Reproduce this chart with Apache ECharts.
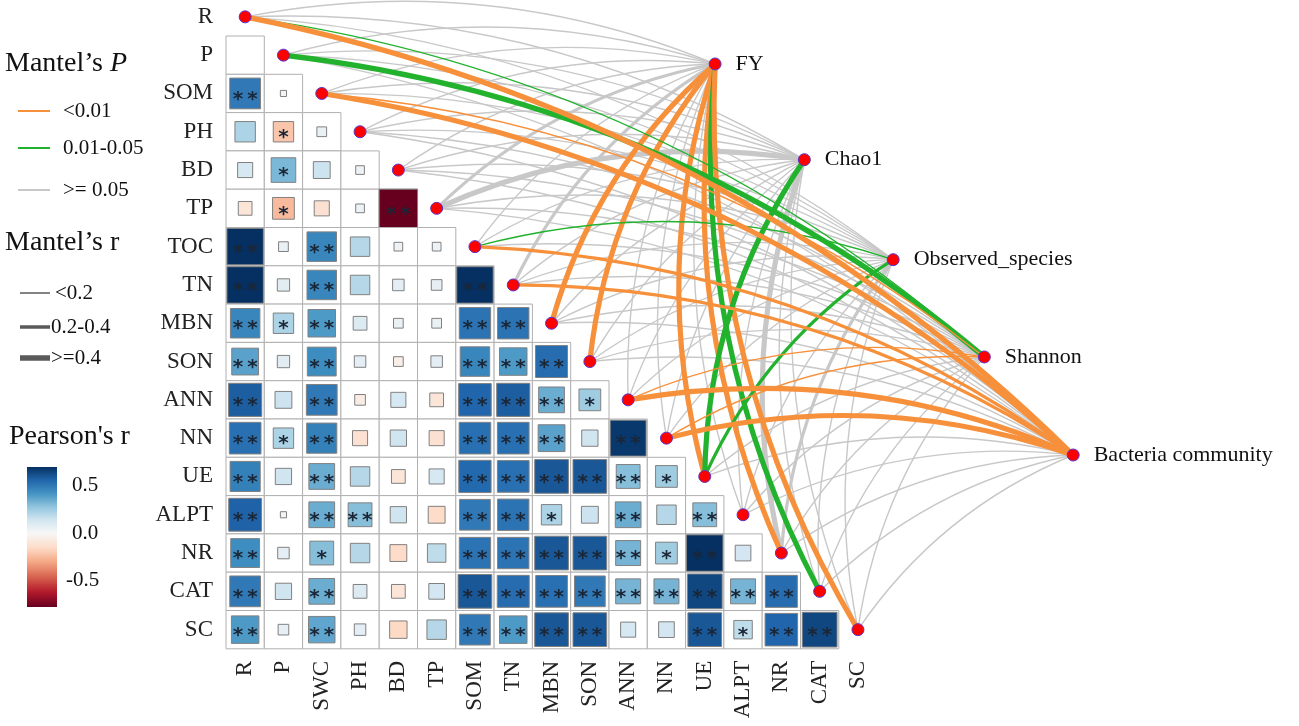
<!DOCTYPE html>
<html><head><meta charset="utf-8">
<script src="https://cdn.jsdelivr.net/npm/echarts@6/dist/echarts.min.js"></script>
<style>html,body{margin:0;padding:0;background:#fff}#c{width:1299px;height:726px}</style>
</head><body><div id="c"></div>
<script>
// ---------- data ----------
const rowNames = ['R','P','SOM','PH','BD','TP','TOC','TN','MBN','SON','ANN','NN','UE','ALPT','NR','CAT','SC'];
const colNames = ['R','P','SWC','PH','BD','TP','SOM','TN','MBN','SON','ANN','NN','UE','ALPT','NR','CAT','SC'];

// Pearson's r, lower triangle (row i has i values, columns 0..i-1)
const corrR = [
  [],
  [0.0],
  [0.50,0.02],
  [0.22,-0.22,0.05],
  [0.12,0.32,0.15,0.04],
  [-0.10,-0.25,-0.12,0.04,-0.78],
  [0.70,0.05,0.46,0.20,0.04,0.04],
  [0.70,0.08,0.46,0.20,0.07,0.06,0.70],
  [0.46,0.22,0.40,0.10,0.05,0.05,0.52,0.52],
  [0.38,0.08,0.44,0.07,-0.05,0.07,0.46,0.40,0.54],
  [0.58,0.15,0.50,-0.06,0.12,-0.10,0.56,0.58,0.35,0.25],
  [0.53,0.22,0.48,-0.12,0.14,-0.12,0.53,0.53,0.38,0.14,0.68],
  [0.48,0.14,0.35,0.20,-0.10,0.12,0.55,0.53,0.60,0.60,0.30,0.25],
  [0.57,0.02,0.35,0.30,0.14,-0.15,0.50,0.52,0.22,0.15,0.35,0.20,0.30],
  [0.44,0.07,0.30,0.20,-0.15,0.18,0.52,0.52,0.60,0.60,0.33,0.25,0.70,0.13],
  [0.50,0.14,0.35,0.10,-0.10,0.13,0.60,0.54,0.53,0.50,0.33,0.33,0.64,0.33,0.54],
  [0.40,0.06,0.37,0.07,-0.16,0.20,0.50,0.40,0.60,0.60,0.12,0.13,0.60,0.18,0.56,0.64]
];
const corrSig = [
  [],
  [''],
  ['**',''],
  ['','*',''],
  ['','*','',''],
  ['','*','','','**'],
  ['**','','**','','',''],
  ['**','','**','','','','**'],
  ['**','*','**','','','','**','**'],
  ['**','','**','','','','**','**','**'],
  ['**','','**','','','','**','**','**','*'],
  ['**','*','**','','','','**','**','**','','**'],
  ['**','','**','','','','**','**','**','**','**','*'],
  ['**','','**','**','','','**','**','*','','**','','**'],
  ['**','','*','','','','**','**','**','**','**','*','**',''],
  ['**','','**','','','','**','**','**','**','**','**','**','**','**'],
  ['**','','**','','','','**','**','**','**','','','**','*','**','**']
];

// Mantel targets (position in matrix units)
const targets = ['FY','Chao1','Observed_species','Shannon','Bacteria community'];
const targetX = [12.27,14.60,16.92,19.30,21.62];
const targetY = [1.23,3.73,6.34,8.88,11.44];

// Mantel's p and r for each environmental variable (order of rowNames)
const pFY      = [0.42,0.31,0.55,0.63,0.48,0.21,0.35,0.12,0.001,0.001,0.33,0.41,0.001,0.52,0.001,0.02,0.001];
const rFY      = [0.05,0.08,0.04,0.05,0.06,0.26,0.11,0.32,0.45,0.46,0.10,0.08,0.47,0.05,0.44,0.43,0.46];
const pChao1   = [0.38,0.45,0.52,0.61,0.47,0.14,0.33,0.29,0.36,0.41,0.55,0.49,0.02,0.44,0.11,0.37,0.28];
const rChao1   = [0.07,0.05,0.04,0.03,0.06,0.42,0.10,0.12,0.09,0.08,0.05,0.06,0.44,0.07,0.42,0.09,0.12];
const pObs     = [0.29,0.35,0.43,0.58,0.51,0.26,0.03,0.22,0.33,0.47,0.39,0.42,0.03,0.36,0.13,0.31,0.18];
const rObs     = [0.09,0.07,0.05,0.03,0.04,0.12,0.12,0.13,0.10,0.06,0.08,0.07,0.32,0.09,0.28,0.10,0.14];
const pShannon = [0.03,0.02,0.008,0.49,0.56,0.31,0.24,0.19,0.37,0.44,0.007,0.009,0.28,0.52,0.35,0.41,0.33];
const rShannon = [0.13,0.43,0.15,0.04,0.03,0.08,0.11,0.12,0.08,0.06,0.16,0.15,0.10,0.05,0.09,0.07,0.09];
const pBact    = [0.001,0.27,0.001,0.46,0.38,0.22,0.001,0.001,0.31,0.29,0.001,0.001,0.26,0.43,0.34,0.32,0.27];
const rBact    = [0.46,0.09,0.45,0.05,0.06,0.11,0.35,0.36,0.08,0.10,0.44,0.42,0.10,0.06,0.09,0.08,0.10];

const colorbarTicks = [0.5, 0.0, -0.5];

// ---------- styling helpers ----------
const FONT = 'Liberation Serif';
const R_MAX = 0.70, R_MIN = -0.78;
const posStops = ['#f7f7f7','#d1e5f0','#92c5de','#4393c3','#2166ac','#053061'];
const negStops = ['#f7f7f7','#fddbc7','#f4a582','#d6604d','#b2182b','#67001f'];
function hex2rgb(h){return [parseInt(h.substr(1,2),16),parseInt(h.substr(3,2),16),parseInt(h.substr(5,2),16)];}
function interp(stops,t){
  t=Math.max(0,Math.min(1,t));
  const n=stops.length-1, k=Math.min(n-1,Math.floor(t*n)), f=t*n-k;
  const a=hex2rgb(stops[k]), b=hex2rgb(stops[k+1]);
  return 'rgb('+a.map((v,i)=>Math.round(v+(b[i]-v)*f)).join(',')+')';
}
function colorOf(r){ return r>=0 ? interp(posStops, r/R_MAX) : interp(negStops, -r/(-R_MIN)); }

const C_ORANGE='#F7903B', C_GREEN='#22B22E', C_GRAY='#C8C8C8';
function pColor(p){ return p<0.01?C_ORANGE:(p<0.05?C_GREEN:C_GRAY); }
function rWidth(r){ return r<0.2?1.4:(r<0.4?3.2:5.2); }

// ---------- build series data ----------
const cellData=[], cellSigFlat=[];
for(let i=0;i<corrR.length;i++) for(let j=0;j<corrR[i].length;j++){
  cellData.push([j,i,corrR[i][j]]); cellSigFlat.push(corrSig[i][j]);
}
const mantelP=[pFY,pChao1,pObs,pShannon,pBact], mantelR=[rFY,rChao1,rObs,rShannon,rBact];
const lineData=[];
for(let k=0;k<targets.length;k++) for(let i=0;i<rowNames.length;i++){
  const p=mantelP[k][i], r=mantelR[k][i];
  lineData.push({coords:[[i,i],[targetX[k],targetY[k]]], rank:(p<0.05?1:0),
    lineStyle:{color:pColor(p), width:rWidth(r), curveness:0.15, opacity:1}});
}
lineData.sort((a,b)=>a.rank-b.rank);

const ints=[...Array(17).keys()];

// colorbar gradient
const cbStops=[];
for(let s=0;s<=40;s++){ const v=R_MAX-(R_MAX-R_MIN)*s/40; cbStops.push({offset:s/40,color:colorOf(v)}); }
const cbTop=467, cbH=140;
function cbY(v){ return cbTop + (R_MAX-v)/(R_MAX-R_MIN)*cbH; }

const TF='28px '+FONT, IF='21px '+FONT;
const graphic=[
  {type:'text', x:5, y:64, style:{text:'{a|Mantel’s }{b|P}', verticalAlign:'middle', rich:{a:{font:TF, fill:'#111'}, b:{font:'italic '+TF, fill:'#111'}}}},
  {type:'line', shape:{x1:18,y1:111,x2:50,y2:111}, style:{stroke:C_ORANGE,lineWidth:2}},
  {type:'text', x:63, y:111, style:{text:'<0.01', font:IF, fill:'#111', verticalAlign:'middle'}},
  {type:'line', shape:{x1:18,y1:148,x2:50,y2:148}, style:{stroke:C_GREEN,lineWidth:2}},
  {type:'text', x:63, y:148, style:{text:'0.01-0.05', font:IF, fill:'#111', verticalAlign:'middle'}},
  {type:'line', shape:{x1:18,y1:190,x2:50,y2:190}, style:{stroke:C_GRAY,lineWidth:2}},
  {type:'text', x:63, y:190, style:{text:'>= 0.05', font:IF, fill:'#111', verticalAlign:'middle'}},
  {type:'text', x:5, y:243, style:{text:'Mantel’s r', font:TF, fill:'#111', verticalAlign:'middle'}},
  {type:'line', shape:{x1:20,y1:293,x2:50,y2:293}, style:{stroke:'#5a5a5a',lineWidth:1.5}},
  {type:'text', x:55, y:293, style:{text:'<0.2', font:IF, fill:'#111', verticalAlign:'middle'}},
  {type:'line', shape:{x1:20,y1:327,x2:50,y2:327}, style:{stroke:'#5a5a5a',lineWidth:3.5}},
  {type:'text', x:51, y:327, style:{text:'0.2-0.4', font:IF, fill:'#111', verticalAlign:'middle'}},
  {type:'line', shape:{x1:20,y1:358,x2:50,y2:358}, style:{stroke:'#5a5a5a',lineWidth:5.5}},
  {type:'text', x:51, y:358, style:{text:'>=0.4', font:IF, fill:'#111', verticalAlign:'middle'}},
  {type:'text', x:9, y:437, style:{text:"Pearson's r", font:TF, fill:'#111', verticalAlign:'middle'}},
  {type:'rect', shape:{x:27,y:cbTop,width:30,height:cbH}, style:{fill:new echarts.graphic.LinearGradient(0,0,0,1,cbStops)}}
];
colorbarTicks.forEach(v=>{
  graphic.push({type:'text', x:v<0?66:72, y:cbY(v), style:{text:v.toFixed(1), font:IF, fill:'#111', verticalAlign:'middle'}});
});

const CELL=38.3;
const option={
  animation:false,
  backgroundColor:'#fff',
  grid:{left:226, top:0, width:22.5*CELL, height:16.94*CELL, containLabel:false},
  xAxis:{type:'value', min:-0.5, max:22, splitLine:{show:false}, axisLine:{show:false}, axisTick:{show:false},
    axisLabel:{customValues:ints, rotate:90, margin:12, formatter:v=>colNames[Math.round(v)]||'', fontFamily:FONT, fontSize:23, color:'#222'}},
  yAxis:{type:'value', inverse:true, min:-0.44, max:16.5, splitLine:{show:false}, axisLine:{show:false}, axisTick:{show:false},
    axisLabel:{customValues:ints, margin:13, formatter:v=>rowNames[Math.round(v)]||'', fontFamily:FONT, fontSize:23, color:'#222'}},
  graphic:graphic,
  series:[
    {type:'custom', coordinateSystem:'cartesian2d', z:1, data:cellData, encode:{x:0,y:1},
     renderItem:function(params,api){
       const x=api.value(0), y=api.value(1), r=api.value(2);
       const c=api.coord([x,y]), s=api.size([1,1]);
       const w=s[0], h=s[1];
       const side=0.95*w*Math.sqrt(Math.abs(r)/R_MAX);
       const sig=cellSigFlat[params.dataIndex];
       const ch=[{type:'rect', shape:{x:c[0]-w/2,y:c[1]-h/2,width:w,height:h}, style:{fill:'#fff',stroke:'#b0b0b0',lineWidth:1}}];
       if(side>0.5) ch.push({type:'rect', shape:{x:c[0]-side/2,y:c[1]-side/2,width:side,height:side}, style:{fill:colorOf(r),stroke:'#808080',lineWidth:1}});
       if(sig) ch.push({type:'text', x:c[0], y:c[1]+6, style:{text:sig.split('').join('\u2009'), font:'bold 20px "DejaVu Sans"', fill:'#1b2636', align:'center', verticalAlign:'middle'}});
       return {type:'group', children:ch};
     }},
    {type:'lines', coordinateSystem:'cartesian2d', z:2, clip:false, silent:true, data:lineData},
    {type:'scatter', z:3, symbol:'circle', symbolSize:12, clip:false,
     itemStyle:{color:'#FF0000', borderColor:'#5B35C8', borderWidth:1, opacity:1},
     data:rowNames.map((n,i)=>({name:n, value:[i,i]}))},
    {type:'scatter', z:3, symbol:'circle', symbolSize:12, clip:false,
     itemStyle:{color:'#FF0000', borderColor:'#5B35C8', borderWidth:1, opacity:1},
     label:{show:true, position:'right', distance:14, formatter:'{b}', fontFamily:FONT, fontSize:22, color:'#111'},
     data:targets.map((n,k)=>({name:n, value:[targetX[k],targetY[k]]}))}
  ]
};
echarts.init(document.getElementById('c')).setOption(option);
</script></body></html>
